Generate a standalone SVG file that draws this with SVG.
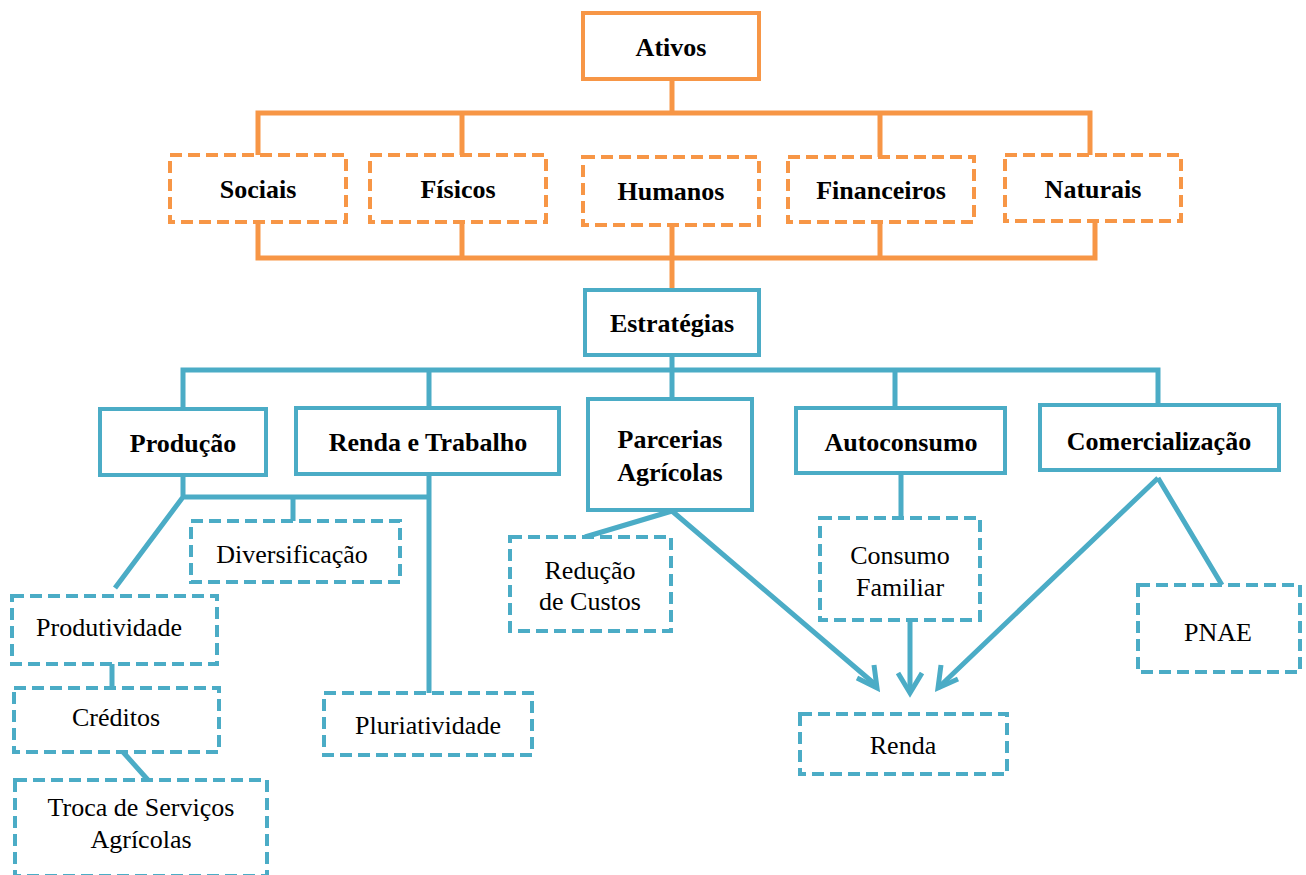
<svg xmlns="http://www.w3.org/2000/svg" width="1306" height="875" viewBox="0 0 1306 875">
<defs>
<style>
.o{fill:#fff;stroke:#F79646;stroke-width:4}
.od{fill:#fff;stroke:#F79646;stroke-width:4;stroke-dasharray:12 6}
.b{fill:#fff;stroke:#4BACC6;stroke-width:4}
.bd{fill:#fff;stroke:#4BACC6;stroke-width:4;stroke-dasharray:12 6}
.ol{fill:none;stroke:#F79646;stroke-width:5}
.bl{fill:none;stroke:#4BACC6;stroke-width:5}
.tb{font-family:"Liberation Serif","Times New Roman",serif;font-weight:bold;font-size:26px;fill:#000;text-anchor:middle}
.tr{font-family:"Liberation Serif","Times New Roman",serif;font-size:26px;fill:#000;text-anchor:middle}
</style>
</defs>
<g id="connectors">
<path class="ol" d="M672 79V113M258 155V113H1090V155M462 113V155M880 113V157"/>
<path class="ol" d="M258 222V258H1095V221M462 222V258M672 225V290M880 222V258"/>
<path class="bl" d="M672 355V370M183 409V370H1158V405M429 370V408M672 370V428M895 370V408"/>
<path class="bl" d="M183 475V497H429M429 474V693M293 497V521M183 497L115 588M112 664V688M123 752L148 780"/>
<path class="bl" d="M672 511L585 537M672 511L877 686M901 473V518M910 620V693M1158 478L938 688M1158 478L1222 585"/>
<path class="bl" d="M857 678L877 688L874 665M898 673L910 693L922 673M941 665L938 688L958 679"/>
</g>
<g id="ativos"><rect class="o" x="583" y="13" width="176" height="66"/><text class="tb" x="671" y="56">Ativos</text></g>
<g id="sociais"><rect class="od" x="170" y="155" width="176" height="67"/><text class="tb" x="258" y="198">Sociais</text></g>
<g id="fisicos"><rect class="od" x="370" y="155" width="176" height="67"/><text class="tb" x="458" y="198">Físicos</text></g>
<g id="humanos"><rect class="od" x="583" y="157" width="176" height="68"/><text class="tb" x="671" y="200">Humanos</text></g>
<g id="financeiros"><rect class="od" x="788" y="157" width="186" height="65"/><text class="tb" x="881" y="199">Financeiros</text></g>
<g id="naturais"><rect class="od" x="1005" y="155" width="176" height="66"/><text class="tb" x="1093" y="198">Naturais</text></g>
<g id="estrategias"><rect class="b" x="585" y="290" width="174" height="65"/><text class="tb" x="672" y="332">Estratégias</text></g>
<g id="producao"><rect class="b" x="100" y="409" width="166" height="66"/><text class="tb" x="183" y="452">Produção</text></g>
<g id="renda-trabalho"><rect class="b" x="296" y="408" width="263" height="66"/><text class="tb" x="428" y="451">Renda e Trabalho</text></g>
<g id="parcerias"><rect class="b" x="588" y="399" width="164" height="111"/><text class="tb" x="670" y="448">Parcerias</text><text class="tb" x="670" y="481">Agrícolas</text></g>
<g id="autoconsumo"><rect class="b" x="796" y="408" width="209" height="65"/><text class="tb" x="901" y="451">Autoconsumo</text></g>
<g id="comercializacao"><rect class="b" x="1040" y="405" width="239" height="65"/><text class="tb" x="1159" y="450">Comercialização</text></g>
<g id="diversificacao"><rect class="bd" x="191" y="521" width="209" height="61"/><text class="tr" x="292" y="563">Diversificação</text></g>
<g id="produtividade"><rect class="bd" x="12" y="596" width="205" height="68"/><text class="tr" x="109" y="636">Produtividade</text></g>
<g id="creditos"><rect class="bd" x="14" y="688" width="205" height="64"/><text class="tr" x="116" y="726">Créditos</text></g>
<g id="troca"><rect class="bd" x="15" y="780" width="252" height="96"/><text class="tr" x="141" y="816">Troca de Serviços</text><text class="tr" x="141" y="848">Agrícolas</text></g>
<g id="pluriatividade"><rect class="bd" x="324" y="693" width="208" height="62"/><text class="tr" x="428" y="734">Pluriatividade</text></g>
<g id="reducao"><rect class="bd" x="510" y="537" width="161" height="94"/><text class="tr" x="590" y="579">Redução</text><text class="tr" x="590" y="610">de Custos</text></g>
<g id="consumo"><rect class="bd" x="820" y="518" width="160" height="102"/><text class="tr" x="900" y="564">Consumo</text><text class="tr" x="900" y="596">Familiar</text></g>
<g id="pnae"><rect class="bd" x="1138" y="585" width="162" height="87"/><text class="tr" x="1218" y="641">PNAE</text></g>
<g id="renda"><rect class="bd" x="800" y="714" width="207" height="60"/><text class="tr" x="903" y="754">Renda</text></g>
</svg>
